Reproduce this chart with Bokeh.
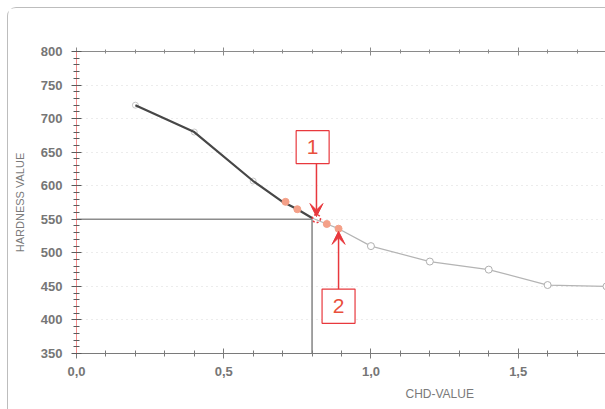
from bokeh.plotting import figure
from bokeh.models import (LinearAxis, Range1d, SingleIntervalTicker, CustomJSTickFormatter,
                          BoxAnnotation, Label, Arrow, VeeHead, Grid, Title)
from bokeh.embed import file_html
from bokeh.resources import INLINE

# ---- data ----
dark_x = [0.2, 0.4, 0.6, 0.7, 0.75, 0.8]
dark_y = [720, 680, 607, 576, 565, 552]
grey_x = [0.8, 0.85, 0.89, 1.0, 1.2, 1.4, 1.6, 1.8]
grey_y = [552, 543, 536, 510, 487, 475, 452, 450]
grey_marker_x = [1.0, 1.2, 1.4, 1.6, 1.8]
grey_marker_y = [510, 487, 475, 452, 450]
dark_marker_x = [0.2, 0.4, 0.6]
dark_marker_y = [720, 680, 607]
orange_x = [0.71, 0.75, 0.85, 0.89]
orange_y = [576, 565, 543, 536]
point1 = (0.815, 551)
point2 = (0.89, 536)
ref_x = 0.8
ref_y = 550
box1 = dict(left=0.746, right=0.858, bottom=633, top=682, label="1")
box2 = dict(left=0.834, right=0.946, bottom=395, top=446, label="2")
x_start, x_end = 0.0, 1.8
y_start, y_end = 350, 800

FONT = "Liberation Sans"
RED = "#e8383d"

p = figure(width=598, height=402, output_backend="svg", toolbar_location=None,
           x_range=Range1d(x_start, x_end), y_range=Range1d(y_start, y_end),
           x_axis_location=None, y_axis_location=None,
           min_border_left=68, min_border_top=43, min_border_bottom=57, min_border_right=0)
p.center = []
p.outline_line_color = None
p.background_fill_color = "white"
p.border_fill_color = "white"
p.styles = {"margin-left": "7px", "margin-top": "7px",
            "border-top": "1px solid #bdbdbd", "border-left": "1px solid #bdbdbd",
            "border-top-left-radius": "9px"}

xfmt = CustomJSTickFormatter(code="return tick.toFixed(1).replace('.', ',');")
blank = CustomJSTickFormatter(code="return '';")

# bottom x axis
xa = LinearAxis(ticker=SingleIntervalTicker(interval=0.5, num_minor_ticks=5), formatter=xfmt)
xa.axis_line_color = "#7a7a7a"
xa.axis_line_width = 1.2
xa.major_tick_line_color = "#7a7a7a"
xa.minor_tick_line_color = "#7a7a7a"
xa.major_tick_in = 5
xa.major_tick_out = 5
xa.minor_tick_in = 3
xa.minor_tick_out = 3
xa.major_label_standoff = 8
xa.major_label_text_font = FONT
xa.major_label_text_font_size = "13px"
xa.major_label_text_font_style = "bold"
xa.major_label_text_color = "#767676"
p.add_layout(xa, "below")

# top axis (no labels)
ta = LinearAxis(ticker=SingleIntervalTicker(interval=0.5, num_minor_ticks=5), formatter=blank)
ta.axis_line_color = "#8a8a8a"
ta.axis_line_width = 1.2
ta.major_tick_line_color = "#8a8a8a"
ta.minor_tick_line_color = "#8a8a8a"
ta.major_tick_in = 4
ta.major_tick_out = 4
ta.minor_tick_in = 2
ta.minor_tick_out = 2
ta.major_label_standoff = 0
p.add_layout(ta, "above")

# left y axis
ya = LinearAxis(ticker=SingleIntervalTicker(interval=50, num_minor_ticks=5))
ya.axis_line_color = "#f28a8a"
ya.axis_line_width = 1
ya.major_tick_line_color = "#5a5a5a"
ya.minor_tick_line_color = "#5a5a5a"
ya.major_tick_in = 5
ya.major_tick_out = 5
ya.minor_tick_in = 3
ya.minor_tick_out = 3
ya.major_label_standoff = 9
ya.major_label_text_font = FONT
ya.major_label_text_font_size = "13px"
ya.major_label_text_font_style = "bold"
ya.major_label_text_color = "#767676"
ya.axis_label = "HARDNESS VALUE"
ya.axis_label_text_font = FONT
ya.axis_label_text_font_size = "11px"
ya.axis_label_text_font_style = "normal"
ya.axis_label_text_color = "#7a7a7a"
ya.axis_label_standoff = 12
p.add_layout(ya, "left")

# faint dotted grid
p.add_layout(Grid(dimension=1, ticker=ya.ticker, grid_line_color="#d9d9d9",
                  grid_line_dash="1 4", grid_line_width=1))

# x axis title, shifted right as in the reference
p.add_layout(Title(text="CHD-VALUE", align="left", offset=329, standoff=12,
                   text_font=FONT, text_font_size="12px", text_font_style="normal",
                   text_color="#7a7a7a"), "below")

# reference lines
p.line([x_start, ref_x], [ref_y, ref_y], line_color="#8c8c8c", line_width=1.6)
p.line([ref_x, ref_x], [y_start, ref_y], line_color="#8c8c8c", line_width=1.6)

# curves
p.line(grey_x, grey_y, line_color="#b4b4b4", line_width=1.2)
p.scatter(grey_marker_x, grey_marker_y, marker="circle", size=7, fill_color="white",
          line_color="#b0b0b0", line_width=1)
p.scatter(dark_marker_x, dark_marker_y, marker="circle", size=6, fill_color="white",
          line_color="#c8c8c8", line_width=1)
p.line(dark_x, dark_y, line_color="#474747", line_width=2.2)
p.scatter(orange_x, orange_y, marker="circle", size=7, fill_color="#f4a088",
          line_color="#f4a088")
p.scatter([point1[0]], [point1[1]], marker="circle", size=8, fill_color=None,
          line_color=RED, line_width=1.5, line_dash="2 2")

# annotation boxes with numbers and arrows
for b in (box1, box2):
    p.add_layout(BoxAnnotation(left=b["left"], right=b["right"], bottom=b["bottom"], top=b["top"],
                               fill_color="white", fill_alpha=1.0, line_color=RED,
                               line_alpha=1.0, line_width=1.2))
    p.add_layout(Label(x=(b["left"] + b["right"]) / 2, y=(b["bottom"] + b["top"]) / 2,
                       text=b["label"], text_align="center", text_baseline="middle",
                       text_font=FONT, text_font_size="21px", text_color="#e9503c"))

p.add_layout(Arrow(x_start=point1[0], y_start=box1["bottom"], x_end=point1[0], y_end=point1[1] + 3,
                   line_color=RED, line_width=1.5,
                   end=VeeHead(size=13, line_color=RED, fill_color=RED, line_width=1)))
p.add_layout(Arrow(x_start=point2[0], y_start=box2["top"], x_end=point2[0], y_end=point2[1] - 4,
                   line_color=RED, line_width=1.5,
                   end=VeeHead(size=13, line_color=RED, fill_color=RED, line_width=1)))

open("out.html", "w").write(file_html(p, INLINE))
